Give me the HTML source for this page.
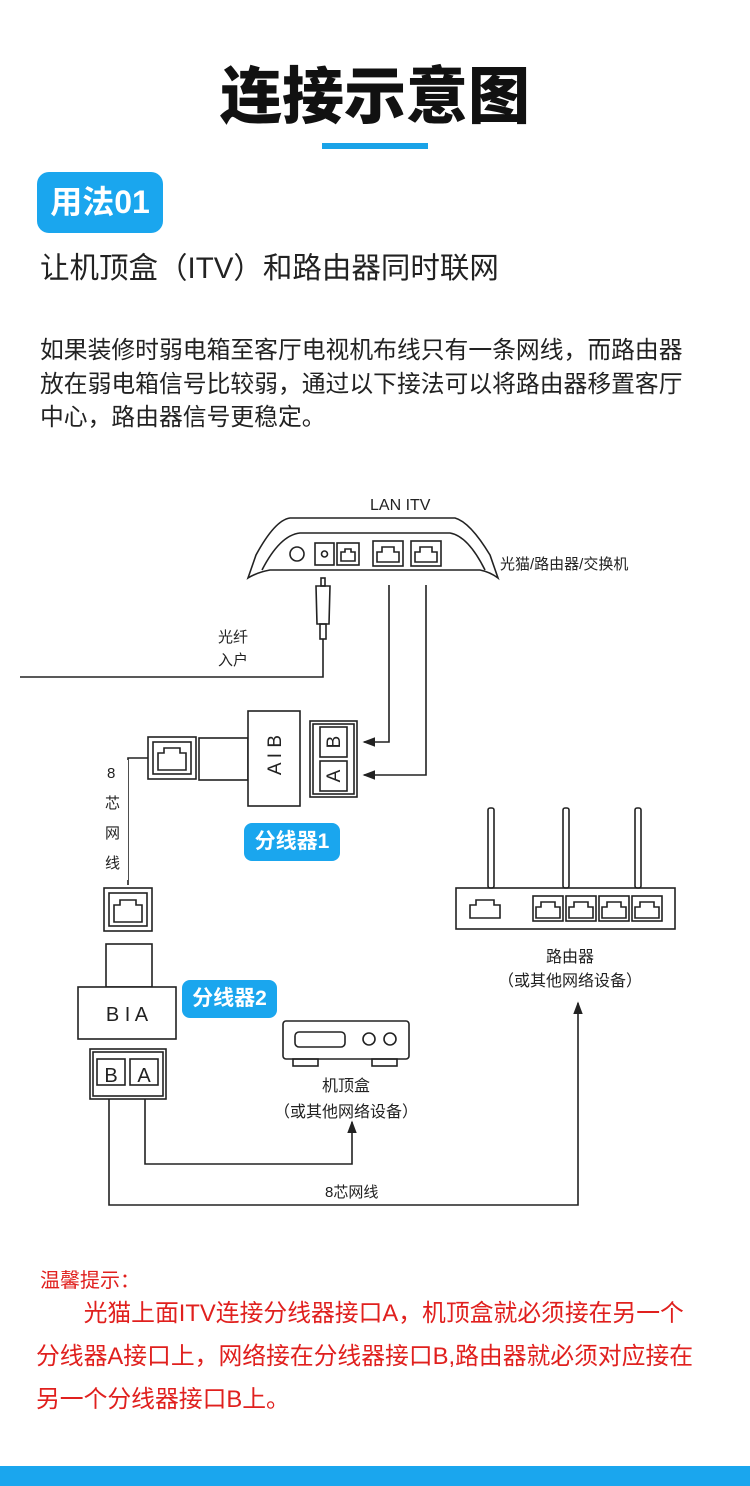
<!DOCTYPE html>
<html><head><meta charset="utf-8"><style>
body{margin:0;width:750px;height:1486px;position:relative;background:#fff;overflow:hidden;font-family:"Liberation Sans","Noto Sans CJK SC",sans-serif;color:#222}
.a{position:absolute;white-space:nowrap}
</style></head><body>
<div class="a" style="left:0;width:750px;top:46px;text-align:center;font-size:62px;font-weight:900;color:#111">连接示意图</div>
<div class="a" style="left:322px;top:143px;width:106px;height:6px;background:#1aa3e8"></div>
<div class="a" style="left:37px;top:172px;width:126px;height:61px;background:#1aa6ee;border-radius:12px;color:#fff;font-size:32px;font-weight:bold;line-height:61px;text-align:center">用法01</div>
<div class="a" style="left:40px;top:245px;font-size:29.5px;color:#222">让机顶盒（ITV）和路由器同时联网</div>
<div class="a" style="left:40px;top:334px;font-size:23.8px;line-height:33.5px;color:#222">如果装修时弱电箱至客厅电视机布线只有一条网线，而路由器<br>放在弱电箱信号比较弱，通过以下接法可以将路由器移置客厅<br>中心，路由器信号更稳定。</div>

<svg class="a" style="left:0;top:0" width="750" height="1486" viewBox="0 0 750 1486" fill="none" stroke="#222" stroke-width="1.6" font-family="Liberation Sans,Noto Sans CJK SC,sans-serif">
<defs><marker id="ar" markerWidth="8" markerHeight="8" refX="7" refY="4" orient="auto"><path d="M0,1 L8,4 L0,7z" fill="#222" stroke="none"/></marker></defs>
<path d="M248,578 L256,555 Q275,520 290,518 L455,518 Q470,522 490,555 L498,578 Q490,572 480,570 L270,570 Q258,572 248,578z" fill="#fff"/>
<path d="M262,570 Q280,535 300,533 L450,533 Q468,536 485,570"/>
<circle cx="297" cy="554" r="7"/>
<rect x="315" y="543" width="19" height="22"/><circle cx="324.5" cy="554" r="3"/>
<rect x="337" y="543" width="22" height="22"/><path d="M341,561 V552 L345,552 L345,549 L351,549 L351,552 L355,552 V561z"/>
<rect x="373" y="541" width="30" height="25"/><path d="M377,562 V552 L382,552 L382,547 L394,547 L394,552 L399,552 V562z"/>
<rect x="411" y="541" width="30" height="25"/><path d="M415,562 V552 L420,552 L420,547 L432,547 L432,552 L437,552 V562z"/>
<text x="370" y="510" font-size="16" fill="#222" stroke="none">LAN  ITV</text>
<text x="500" y="569" font-size="15" fill="#222" stroke="none">光猫/路由器/交换机</text>
<rect x="321" y="578" width="4" height="8"/>
<path d="M316,586 L330,586 L329,624 L317,624z"/><rect x="320" y="624" width="6" height="15"/>
<path d="M323,639 V677 H20"/>
<text x="218" y="642" font-size="15" fill="#222" stroke="none">光纤</text>
<text x="218" y="665" font-size="15" fill="#222" stroke="none">入户</text>
<path d="M389,585 V742 H364" marker-end="url(#ar)"/>
<path d="M426,585 V775 H364" marker-end="url(#ar)"/>
<rect x="148" y="737" width="48" height="42"/><rect x="153" y="742" width="38" height="32"/>
<path d="M158,770 V753 L164,753 L164,748 L180,748 L180,753 L186,753 V770z"/>
<rect x="199" y="738" width="49" height="42"/>
<rect x="248" y="711" width="52" height="95" fill="#fff"/>
<text x="281" y="735" font-size="19" fill="#222" stroke="none" transform="rotate(-90 281 735)" text-anchor="end">A I B</text>
<rect x="310" y="721" width="47" height="76"/><rect x="313" y="724" width="41" height="70"/>
<rect x="320" y="727" width="27" height="30"/><rect x="320" y="761" width="27" height="30"/>
<text x="342" y="742" font-size="19" fill="#222" stroke="none" transform="rotate(-90 342 742)" text-anchor="middle" dy="-2">B</text>
<text x="342" y="776" font-size="19" fill="#222" stroke="none" transform="rotate(-90 342 776)" text-anchor="middle" dy="-2">A</text>
<path d="M148,758 H128 V885"/>
<g fill="#222" stroke="none" font-size="15"><rect x="100" y="760" width="28" height="120" fill="#fff"/>
<text x="107" y="778">8</text><text x="105" y="808">芯</text><text x="105" y="838">网</text><text x="105" y="868">线</text></g>
<rect x="104" y="888" width="48" height="43"/><rect x="109" y="893" width="38" height="33"/>
<path d="M114,922 V905 L120,905 L120,900 L136,900 L136,905 L142,905 V922z"/>
<rect x="106" y="944" width="46" height="43"/>
<rect x="78" y="987" width="98" height="52" fill="#fff"/>
<text x="127" y="1021" font-size="20" fill="#222" stroke="none" text-anchor="middle">B I A</text>
<rect x="90" y="1049" width="76" height="50"/><rect x="93" y="1052" width="70" height="44"/>
<rect x="97" y="1059" width="28" height="26"/><rect x="130" y="1059" width="28" height="26"/>
<text x="111" y="1082" font-size="20" fill="#222" stroke="none" text-anchor="middle">B</text>
<text x="144" y="1082" font-size="20" fill="#222" stroke="none" text-anchor="middle">A</text>
<path d="M145,1099 V1164 H352 V1122" marker-end="url(#ar)"/>
<path d="M109,1099 V1205 H578 V1003" marker-end="url(#ar)"/>
<text x="325" y="1197" font-size="15" fill="#222" stroke="none">8芯网线</text>
<rect x="283" y="1021" width="126" height="38" rx="3"/>
<rect x="295" y="1032" width="50" height="15" rx="4"/>
<circle cx="369" cy="1039" r="6"/><circle cx="390" cy="1039" r="6"/>
<rect x="293" y="1059" width="25" height="7"/><rect x="372" y="1059" width="25" height="7"/>
<text x="346" y="1091" font-size="16" fill="#222" stroke="none" text-anchor="middle">机顶盒</text>
<text x="346" y="1117" font-size="16" fill="#222" stroke="none" text-anchor="middle">（或其他网络设备）</text>
<rect x="488" y="808" width="6" height="80" rx="2"/><rect x="563" y="808" width="6" height="80" rx="2"/><rect x="635" y="808" width="6" height="80" rx="2"/>
<rect x="456" y="888" width="219" height="41"/>
<g>
<path d="M470,918 V905 L476,905 L476,900 L494,900 L494,905 L500,905 V918z"/>
<rect x="533" y="896" width="30" height="25"/><path d="M536,918 V907 L541,907 L541,902 L555,902 L555,907 L560,907 V918z"/>
<rect x="566" y="896" width="30" height="25"/><path d="M569,918 V907 L574,907 L574,902 L588,902 L588,907 L593,907 V918z"/>
<rect x="599" y="896" width="30" height="25"/><path d="M602,918 V907 L607,907 L607,902 L621,902 L621,907 L626,907 V918z"/>
<rect x="632" y="896" width="30" height="25"/><path d="M635,918 V907 L640,907 L640,902 L654,902 L654,907 L659,907 V918z"/>
</g>
<text x="570" y="962" font-size="16" fill="#222" stroke="none" text-anchor="middle">路由器</text>
<text x="570" y="986" font-size="16" fill="#222" stroke="none" text-anchor="middle">（或其他网络设备）</text>
</svg>
<div class="a" style="left:244px;top:823px;width:96px;height:38px;background:#1aa6ee;border-radius:8px;color:#fff;font-size:21px;font-weight:bold;line-height:38px;text-align:center">分线器1</div>
<div class="a" style="left:182px;top:980px;width:95px;height:38px;background:#1aa6ee;border-radius:8px;color:#fff;font-size:21px;font-weight:bold;line-height:38px;text-align:center">分线器2</div>

<div class="a" style="left:40px;top:1264px;font-size:20px;color:#e0201e">温馨提示：</div>
<div class="a" style="left:36px;top:1292px;font-size:23.8px;line-height:43px;color:#e0201e">　　光猫上面ITV连接分线器接口A，机顶盒就必须接在另一个<br>分线器A接口上，网络接在分线器接口B,路由器就必须对应接在<br>另一个分线器接口B上。</div>
<div class="a" style="left:0;top:1466px;width:750px;height:20px;background:#1aa6ee"></div>
</body></html>
